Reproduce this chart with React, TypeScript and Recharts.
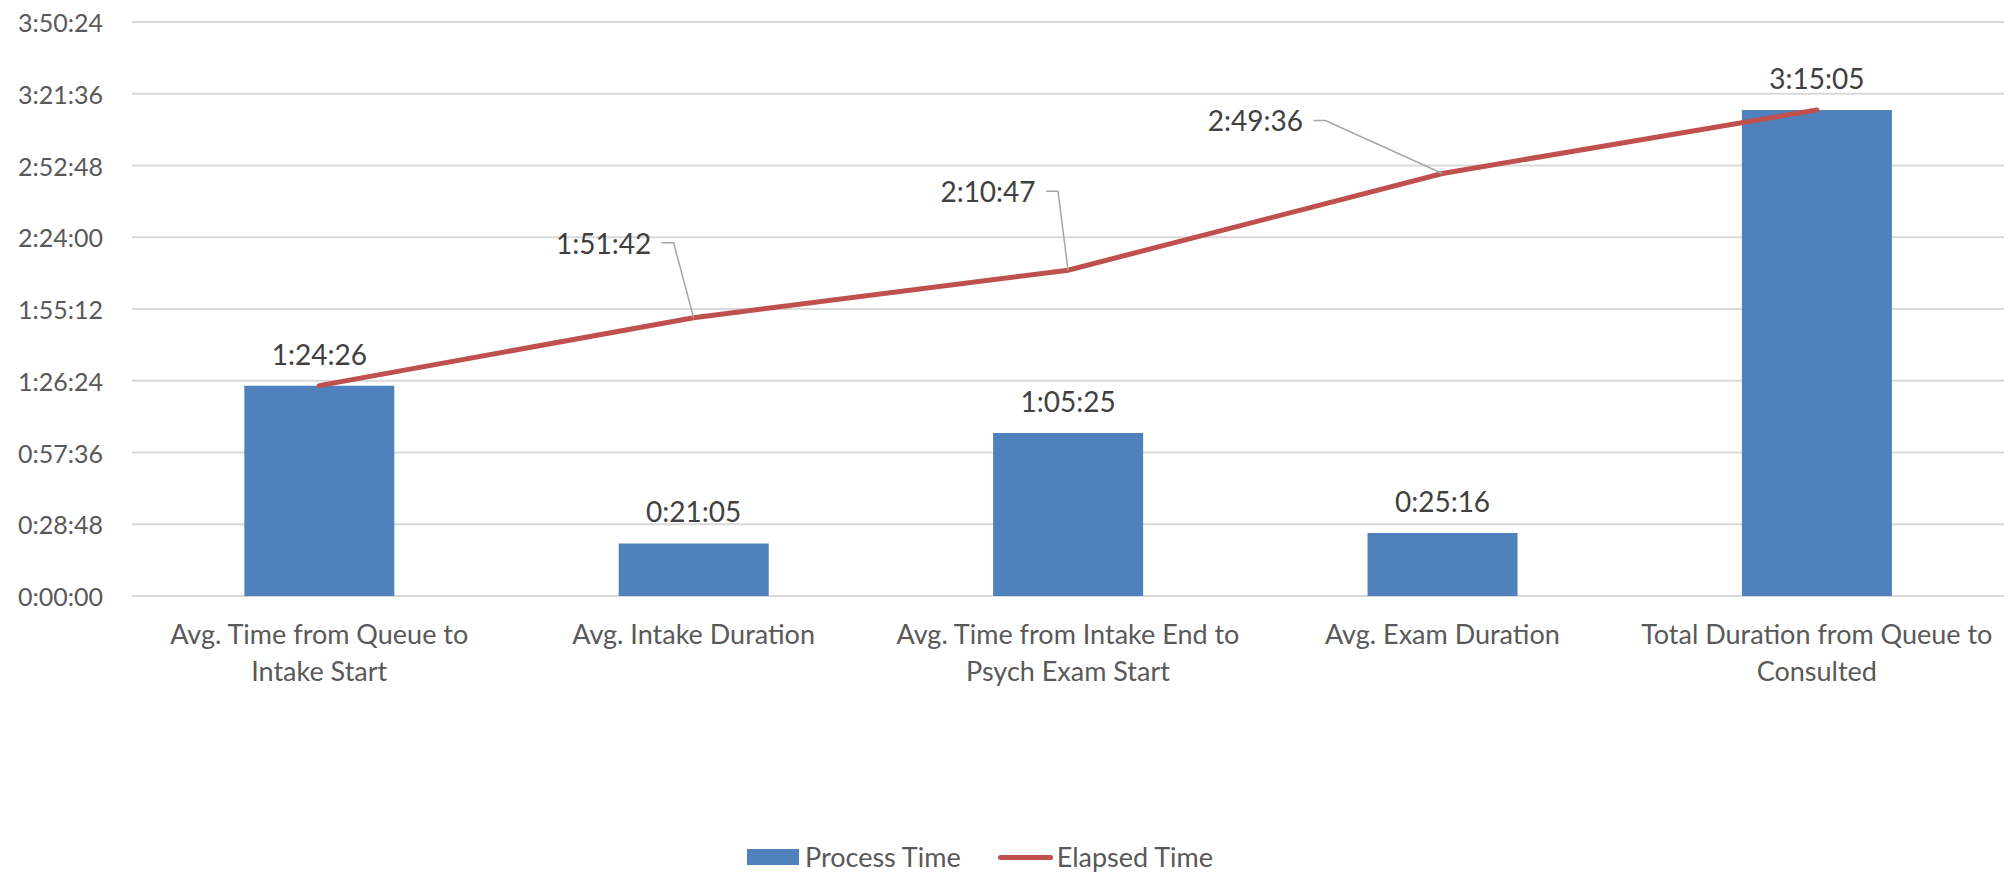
import React from 'react';
import {
  ComposedChart,
  Bar,
  Line,
  XAxis,
  YAxis,
  CartesianGrid,
  Legend,
  LabelList,
} from 'recharts';

const categories = [
  'Avg. Time from Queue to\nIntake Start',
  'Avg. Intake Duration',
  'Avg. Time from Intake End to\nPsych Exam Start',
  'Avg. Exam Duration',
  'Total Duration from Queue to\nConsulted',
];
const processTime = ['1:24:26', '0:21:05', '1:05:25', '0:25:16', '3:15:05'];
const elapsedTime = ['1:24:26', '1:51:42', '2:10:47', '2:49:36', '3:15:05'];
const yTickLabels = [
  '0:00:00',
  '0:28:48',
  '0:57:36',
  '1:26:24',
  '1:55:12',
  '2:24:00',
  '2:52:48',
  '3:21:36',
  '3:50:24',
];

const toSec = (s: string) => {
  const [h, m, sec] = s.split(':').map(Number);
  return h * 3600 + m * 60 + sec;
};
const pad = (n: number) => String(n).padStart(2, '0');
const toHms = (v: number) => {
  const h = Math.floor(v / 3600);
  const m = Math.floor((v % 3600) / 60);
  const s = Math.round(v % 60);
  return `${h}:${pad(m)}:${pad(s)}`;
};

const data = categories.map((name, i) => ({
  name,
  process: toSec(processTime[i]),
  elapsed: toSec(elapsedTime[i]),
}));
const yTicks = yTickLabels.map(toSec);

const FONT = 'Lato, "Open Sans", sans-serif';
const BLUE = '#4F81BD';
const RED = '#C0504D';
const GRID = '#D9D9D9';
const AXIS_TEXT = '#595959';
const LABEL_TEXT = '#404040';

// label centre offsets from the line point, only for the middle points
const leaderOffsets: Record<number, [number, number]> = {
  1: [-90, -75],
  2: [-80, -79],
  3: [-187, -53],
};

const CategoryTick = (props: any) => {
  const { x, y, payload } = props;
  const lines = String(payload.value).split('\n');
  return (
    <g>
      {lines.map((ln, i) => (
        <text
          key={i}
          x={x}
          y={y + 37 + i * 37}
          textAnchor="middle"
          dominantBaseline="central"
          fill={AXIS_TEXT}
          fontSize={27}
          fontFamily={FONT}
        >
          {ln}
        </text>
      ))}
    </g>
  );
};

const ValueTick = (props: any) => {
  const { x, y, payload } = props;
  return (
    <text
      x={x}
      y={y}
      textAnchor="end"
      dominantBaseline="central"
      fill={AXIS_TEXT}
      fontSize={25}
      fontFamily={FONT}
    >
      {toHms(payload.value)}
    </text>
  );
};

const BarLabel = (props: any) => {
  const { x, y, width, value } = props;
  return (
    <text
      x={x + width / 2}
      y={y - 32}
      textAnchor="middle"
      dominantBaseline="central"
      fill={LABEL_TEXT}
      fontSize={28}
      fontFamily={FONT}
    >
      {toHms(value)}
    </text>
  );
};

const LineLabel = (props: any) => {
  const { x, y, index, value } = props;
  const off = leaderOffsets[index];
  if (!off) return null;
  const cx = x + off[0];
  const cy = y + off[1];
  return (
    <g>
      <polyline
        points={`${cx + 58},${cy} ${cx + 70},${cy} ${x},${y}`}
        fill="none"
        stroke="#A6A6A6"
        strokeWidth={1.5}
      />
      <text
        x={cx}
        y={cy}
        textAnchor="middle"
        dominantBaseline="central"
        fill={LABEL_TEXT}
        fontSize={28}
        fontFamily={FONT}
      >
        {toHms(value)}
      </text>
    </g>
  );
};

const renderLegend = () => (
  <div
    style={{
      display: 'flex',
      justifyContent: 'center',
      alignItems: 'center',
      height: 26,
      lineHeight: '26px',
      paddingRight: 44,
      paddingBottom: 4,
      fontFamily: FONT,
      fontSize: 27,
      color: AXIS_TEXT,
    }}
  >
    <span style={{ display: 'inline-block', width: 52, height: 16, background: BLUE, marginRight: 6 }} />
    <span style={{ marginRight: 37 }}>Process Time</span>
    <span
      style={{ display: 'inline-block', width: 55, height: 5, background: RED, borderRadius: 3, marginRight: 4 }}
    />
    <span>Elapsed Time</span>
  </div>
);

export default function App() {
  return (
    <div style={{ position: 'absolute', left: 0, top: 0, background: '#fff' }}>
      <ComposedChart
        width={2011}
        height={874}
        data={data}
        margin={{ top: 22, right: 7, left: 0, bottom: 0 }}
        barCategoryGap="30%"
      >
        <CartesianGrid vertical={false} stroke={GRID} strokeWidth={2} />
        <XAxis
          dataKey="name"
          interval={0}
          height={248}
          tickLine={false}
          axisLine={false}
          tickSize={0}
          tickMargin={0}
          tick={<CategoryTick />}
        />
        <YAxis
          width={132}
          domain={[0, yTicks[yTicks.length - 1]]}
          ticks={yTicks}
          axisLine={false}
          tickLine={false}
          tickSize={0}
          tickMargin={29}
          tick={<ValueTick />}
        />
        <Legend verticalAlign="bottom" content={renderLegend} />
        <Bar dataKey="process" name="Process Time" fill={BLUE} isAnimationActive={false}>
          <LabelList dataKey="process" content={<BarLabel />} />
        </Bar>
        <Line
          type="linear"
          dataKey="elapsed"
          name="Elapsed Time"
          stroke={RED}
          strokeWidth={5}
          strokeLinecap="round"
          dot={false}
          activeDot={false}
          isAnimationActive={false}
        >
          <LabelList dataKey="elapsed" content={<LineLabel />} />
        </Line>
      </ComposedChart>
    </div>
  );
}
